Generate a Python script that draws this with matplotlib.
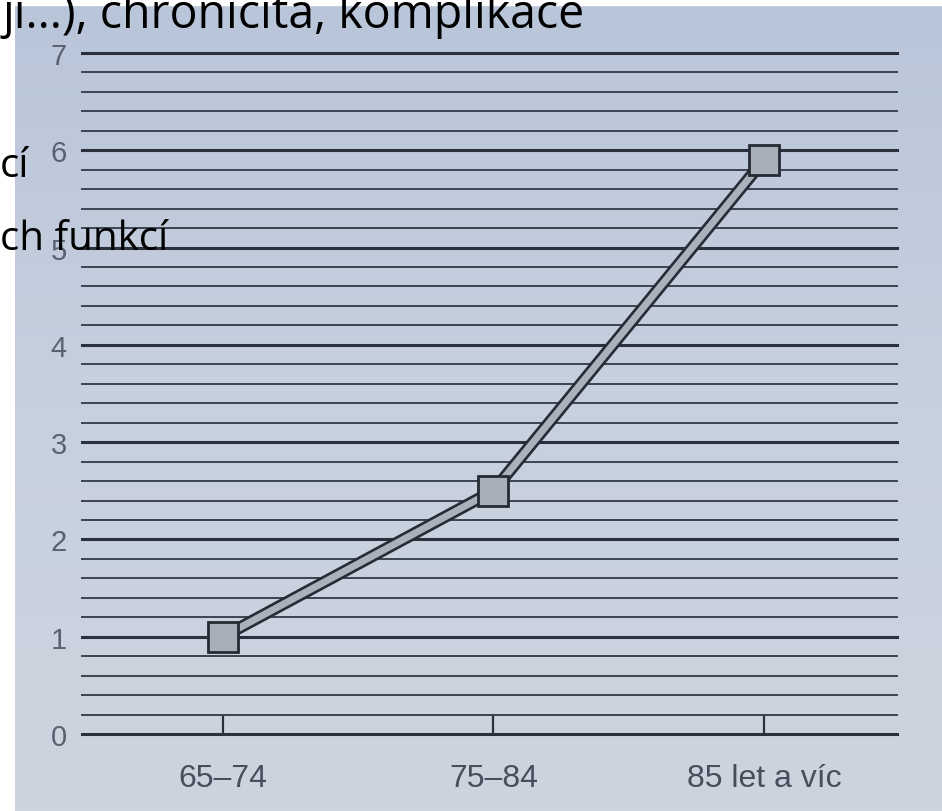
import numpy as np
import matplotlib
matplotlib.use('Agg')
import matplotlib.pyplot as plt
from matplotlib.patches import Rectangle
from matplotlib.colors import LinearSegmentedColormap

#-------------------------------------------------------------------------------
categories = ['65–74', '75–84', '85 let a víc']
values = [1.0, 2.5, 5.9]
y_ticks = [0, 1, 2, 3, 4, 5, 6, 7]
slide_lines = ['ji...), chronicita, komplikace', 'cí', 'ch funkcí']

W, H = 942, 812
fig = plt.figure(figsize=(W/100, H/100), dpi=100, facecolor='white')

# photo background (slightly uneven lighting)
bg = fig.add_axes([15/W, 0, 1-15/W, 806/H])
grad = np.linspace(0, 1, 256).reshape(-1, 1)
cmap = LinearSegmentedColormap.from_list('photo', ['#b9c5d9', '#c7d0de', '#ccd4df'])
bg.imshow(grad, aspect='auto', cmap=cmap, extent=[0, 1, 0, 1], origin='upper')
bg.set_axis_off()

ax = fig.add_axes([82/W, 1-735/H, (897-82)/W, (735-54)/H])
ax.patch.set_alpha(0)
x = np.arange(len(categories))
ax.set_xlim(-0.521, 2.492)
ax.set_ylim(0, 7)

# ruled lines
minor = np.arange(0, 7.01, 0.2)
for v in minor:
    major = abs(v - round(v)) < 1e-6
    ax.axhline(v, color='#2a303c' if major else '#3c4351',
               lw=2.2 if major else 1.4, clip_on=False, zorder=1)
ax.vlines(x, 0, 0.19, color='#2a303c', lw=1.6, zorder=1)

# double-ruled data line
ax.plot(x, values, '-', color='#262b35', lw=8.8, solid_capstyle='butt', zorder=3)
ax.plot(x, values, '-', color='#a9b1bc', lw=5.0, solid_capstyle='butt', zorder=4)
ax.plot(x, values, 's', ms=21, mfc='#a7afba', mec='#252a33', mew=2.0, zorder=5)

ax.set_yticks(y_ticks)
ax.set_yticklabels([str(t) for t in y_ticks])
ax.set_xticks(x)
ax.set_xticklabels(categories)
ax.tick_params(axis='y', length=0, pad=11, labelsize=21, labelcolor='#5a6271')
ax.tick_params(axis='x', length=0, pad=21, labelsize=23, labelcolor='#474f5d')
for lab in ax.get_xticklabels() + ax.get_yticklabels():
    lab.set_family(['Liberation Sans', 'DejaVu Sans'])
for s in ax.spines.values():
    s.set_visible(False)

# white slide edge and slide text over the photo
fig.patches.append(Rectangle((0, 806/H), 1, 1, transform=fig.transFigure,
                             color='white', zorder=0.5))
fig.text(3/W, 1-28/H, slide_lines[0], fontsize=33.5, family=['Open Sans', 'DejaVu Sans'],
         color='black', va='baseline', ha='left', zorder=10)
fig.text(0/W, 1-177/H, slide_lines[1], fontsize=29, family=['Open Sans', 'DejaVu Sans'],
         color='black', va='baseline', ha='left', zorder=10)
fig.text(0/W, 1-250/H, slide_lines[2], fontsize=29, family=['Open Sans', 'DejaVu Sans'],
         color='black', va='baseline', ha='left', zorder=10)

fig.savefig('out.png', dpi=100, facecolor='white')
